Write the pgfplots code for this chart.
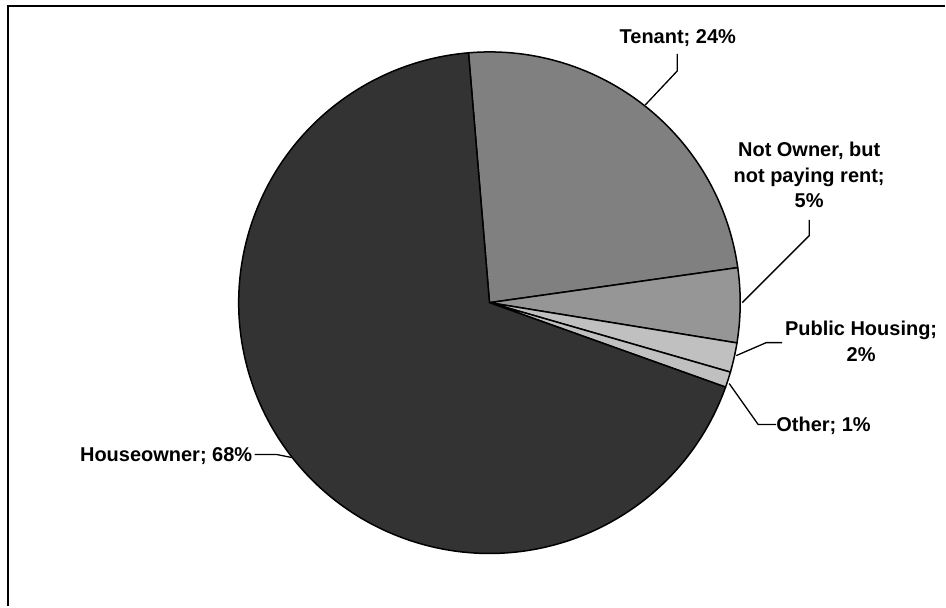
\documentclass[border=0pt]{standalone}
\usepackage{pgfplots}
\usepackage{pgfplotstable}
\pgfplotsset{compat=1.18}
\usepackage{fontspec}
\setmainfont{Liberation Sans}
\definecolor{cHouse}{HTML}{333333}
\definecolor{cTen}{HTML}{808080}
\definecolor{cNot}{HTML}{969696}
\definecolor{cPub}{HTML}{C0C0C0}
\definecolor{cOth}{HTML}{C0C0C0}
\newcommand\labfont{\fontsize{20bp}{25.5bp}\selectfont\bfseries}
\tikzset{lab/.style={font=\labfont, inner sep=0pt}}
% share of each housing status, in percent, clockwise from the top
\pgfplotstableread{
name value col
Tenant 24.1 cTen
NotOwner 4.8 cNot
Public 1.9 cPub
Other 1.0 cOth
House 68.2 cHouse
}\piedata
\begin{document}
\begin{tikzpicture}
\begin{axis}[x=1bp,y=1bp,xmin=0,xmax=946,ymin=0,ymax=607,hide axis,clip=false]
\path (axis cs:0,0) rectangle (axis cs:946,607);
\draw[line width=2bp] (axis cs:8.5,0) |- (axis cs:946,600.5);
\pgfplotstablegetrowsof{\piedata}
\pgfmathtruncatemacro{\nrows}{\pgfplotsretval-1}
\def\curang{94.8}
\pgfplotsforeachungrouped \i in {0,...,\nrows}{%
  \pgfplotstablegetelem{\i}{value}\of{\piedata}\let\v\pgfplotsretval
  \pgfplotstablegetelem{\i}{col}\of{\piedata}\let\c\pgfplotsretval
  \pgfmathsetmacro{\endang}{\curang-3.6*\v}%
  \edef\doslice{\noexpand\filldraw[fill=\c, draw=black, line width=1.5bp, line join=round]
     (axis cs:490,304) -- ++(\curang:251bp) arc[start angle=\curang, end angle=\endang, radius=251bp] -- cycle;}%
  \doslice
  \global\let\curang\endang
}
% leader lines
\draw[line width=1.3bp] (axis cs:678,553) -- (axis cs:678,536) -- (axis cs:646,502);
\draw[line width=1.3bp] (axis cs:810,387) -- (axis cs:810,371) -- (axis cs:743,304);
\draw[line width=1.3bp] (axis cs:783,264) -- (axis cs:767,264) -- (axis cs:737,251);
\draw[line width=1.3bp] (axis cs:777,182) -- (axis cs:759,182) -- (axis cs:730,223);
\draw[line width=1.3bp] (axis cs:255,152) -- (axis cs:277,152) -- (axis cs:292,149);
% labels
\node[lab, anchor=base] at (axis cs:678.5,563) {Tenant; 24\%};
\node[lab, anchor=base] at (axis cs:810,450) {Not Owner, but};
\node[lab, anchor=base] at (axis cs:810,424.5) {not paying rent;};
\node[lab, anchor=base] at (axis cs:810,399) {5\%};
\node[lab, anchor=base] at (axis cs:862,271) {Public Housing;};
\node[lab, anchor=base] at (axis cs:862,245) {2\%};
\node[lab, anchor=base west] at (axis cs:777,175) {Other; 1\%};
\node[lab, anchor=base west] at (axis cs:80,145) {Houseowner; 68\%};
\end{axis}
\end{tikzpicture}
\end{document}
